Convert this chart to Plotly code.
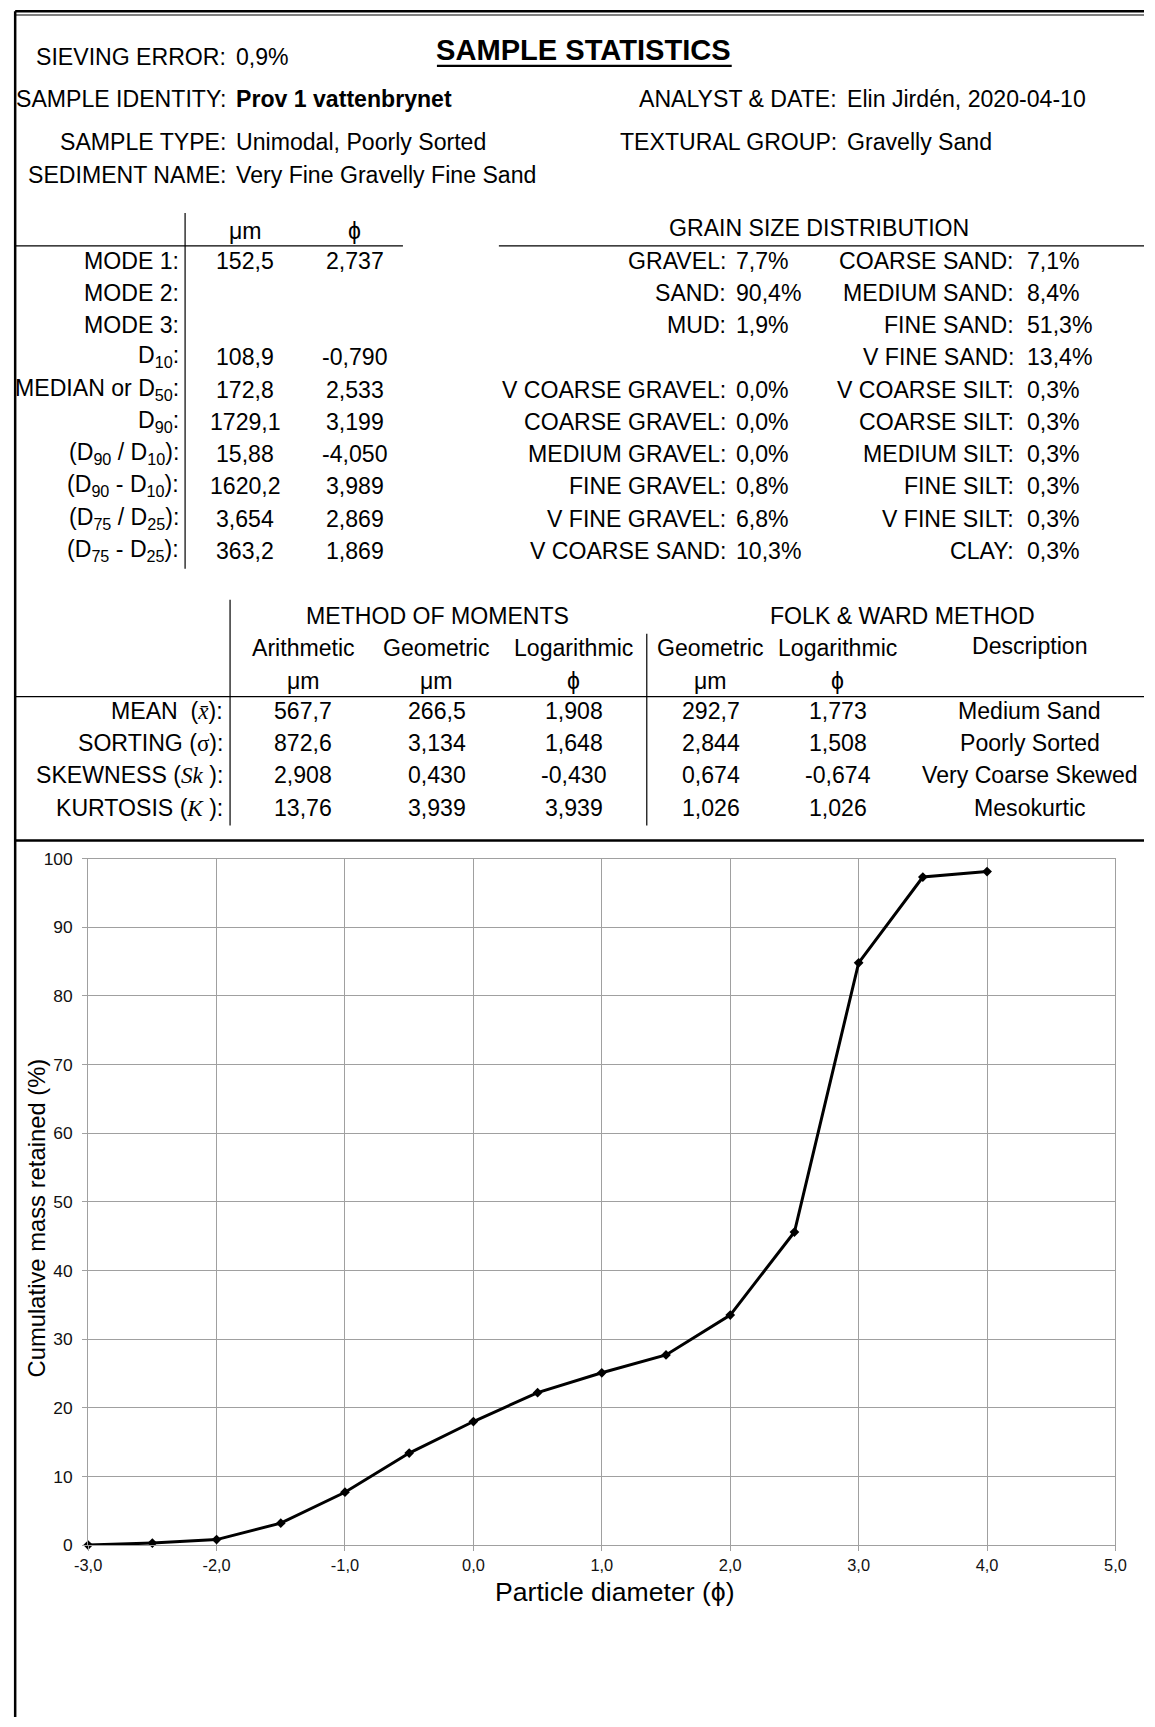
import plotly.graph_objects as go

W, H = 1155, 1727
FONT = "Liberation Sans, Arial, sans-serif"
SERIF = "Liberation Serif, Times New Roman, serif"
BODY = 23.1

# Layout positions below are given in page pixels; the page places the figure
# with an offset and a slight scale, which the helpers px/py undo.
SX, OX = 0.979, 12.8
SY, OY = 0.989, 8.0

# ---- cumulative curve ----
phi_classes = [-3.0, -2.5, -2.0, -1.5, -1.0, -0.5, 0.0, 0.5, 1.0, 1.5, 2.0, 2.5, 3.0, 3.5, 4.0]
cum_retained = [0.0, 0.3, 0.8, 3.2, 7.7, 13.4, 18.0, 22.2, 25.1, 27.7, 33.5, 45.6, 84.8, 97.3, 98.1]
x_ticks = [-3, -2, -1, 0, 1, 2, 3, 4, 5]
x_tick_text = ["-3,0", "-2,0", "-1,0", "0,0", "1,0", "2,0", "3,0", "4,0", "5,0"]
y_ticks = [0, 10, 20, 30, 40, 50, 60, 70, 80, 90, 100]

# ---- header info ----
header_left_labels = ["SIEVING ERROR:", "SAMPLE IDENTITY:", "SAMPLE TYPE:", "SEDIMENT NAME:"]
header_left_values = ["0,9%", "<b>Prov 1 vattenbrynet</b>", "Unimodal, Poorly Sorted",
                      "Very Fine Gravelly Fine Sand"]
header_right_labels = ["ANALYST & DATE:", "TEXTURAL GROUP:"]
header_right_values = ["Elin Jirdén, 2020-04-10", "Gravelly Sand"]

# ---- size statistics ----
stat_labels = ["MODE 1:", "MODE 2:", "MODE 3:", "D<sub>10</sub>:", "MEDIAN or D<sub>50</sub>:",
               "D<sub>90</sub>:", "(D<sub>90</sub> / D<sub>10</sub>):", "(D<sub>90</sub> - D<sub>10</sub>):",
               "(D<sub>75</sub> / D<sub>25</sub>):", "(D<sub>75</sub> - D<sub>25</sub>):"]
stat_um = ["152,5", "", "", "108,9", "172,8", "1729,1", "15,88", "1620,2", "3,654", "363,2"]
stat_phi = ["2,737", "", "", "-0,790", "2,533", "3,199", "-4,050", "3,989", "2,869", "1,869"]

# ---- grain size distribution ----
gsd_left_labels = ["GRAVEL:", "SAND:", "MUD:", "", "V COARSE GRAVEL:", "COARSE GRAVEL:",
                   "MEDIUM GRAVEL:", "FINE GRAVEL:", "V FINE GRAVEL:", "V COARSE SAND:"]
gsd_left_values = ["7,7%", "90,4%", "1,9%", "", "0,0%", "0,0%", "0,0%", "0,8%", "6,8%", "10,3%"]
gsd_right_labels = ["COARSE SAND:", "MEDIUM SAND:", "FINE SAND:", "V FINE SAND:", "V COARSE SILT:",
                    "COARSE SILT:", "MEDIUM SILT:", "FINE SILT:", "V FINE SILT:", "CLAY:"]
gsd_right_values = ["7,1%", "8,4%", "51,3%", "13,4%", "0,3%", "0,3%", "0,3%", "0,3%", "0,3%", "0,3%"]

# ---- moments / Folk & Ward ----
mom_labels = [
    'MEAN  (<span style="font-family:%s;font-style:italic">x̄</span>):' % SERIF,
    'SORTING (<span style="font-family:%s">σ</span>):' % SERIF,
    'SKEWNESS (<span style="font-family:%s;font-style:italic">Sk</span> ):' % SERIF,
    'KURTOSIS (<span style="font-family:%s;font-style:italic">K</span> ):' % SERIF,
]
mom_headers = ["Arithmetic", "Geometric", "Logarithmic", "Geometric", "Logarithmic", "Description"]
mom_units = ["μm", "μm", "ϕ", "μm", "ϕ", ""]
mom_arith = ["567,7", "872,6", "2,908", "13,76"]
mom_geom = ["266,5", "3,134", "0,430", "3,939"]
mom_log = ["1,908", "1,648", "-0,430", "3,939"]
fw_geom = ["292,7", "2,844", "0,674", "1,026"]
fw_log = ["1,773", "1,508", "-0,674", "1,026"]
fw_desc = ["Medium Sand", "Poorly Sorted", "Very Coarse Skewed", "Mesokurtic"]


def px(x):
    fx = max((x - OX) / SX, 1.2)
    return min(fx, W) / W


def py(y):
    fy = max((y - OY) / SY, 1.2)
    return 1 - min(fy, H) / H


annotations = []
shapes = []


def text(x, y, s, anchor="left", size=BODY, angle=0):
    annotations.append(dict(
        x=px(x), y=py(y), xref="paper", yref="paper", text=s, showarrow=False,
        xanchor=anchor, yanchor="middle", textangle=angle,
        font=dict(family=FONT, size=size, color="black"),
    ))


def line(x0, y0, x1, y1, width=1.2, color="black"):
    shapes.append(dict(type="line", xref="paper", yref="paper",
                       x0=px(x0), y0=py(y0), x1=px(x1), y1=py(y1),
                       line=dict(color=color, width=width)))


RIGHT = 1170
BOTTOM = 1740

# frame
line(0, 0, RIGHT, 0, width=2.5)
line(0, 13, RIGHT, 13, width=1.2)
line(0, 0, 0, BOTTOM, width=2.5)

# title
text(583, 48, "<b>SAMPLE STATISTICS</b>", anchor="center", size=29.1)
line(436, 64, 731, 64, width=2.2)

# header block
head_rows = [55, 97, 140, 173]
for lab, val, y in zip(header_left_labels, header_left_values, head_rows):
    text(227, y, lab, anchor="right")
    text(233, y, val, anchor="left")
for lab, val, y in zip(header_right_labels, header_right_values, head_rows[1:3]):
    text(838, y, lab, anchor="right")
    text(844, y, val, anchor="left")

# statistics table
row_y = [259, 291, 323, 355, 388, 420, 452, 484, 517, 549]
text(244, 229, "μm", anchor="center")
text(354, 229, "ϕ", anchor="center")
line(0, 244, 402, 244)
line(184, 211, 184, 567)
for lab, um, ph, y in zip(stat_labels, stat_um, stat_phi, row_y):
    text(180, y, lab, anchor="right")
    if um:
        text(244, y, um, anchor="center")
    if ph:
        text(354, y, ph, anchor="center")

# grain size distribution
text(818, 226, "GRAIN SIZE DISTRIBUTION", anchor="center")
line(498, 244, RIGHT, 244)
for lab, val, y in zip(gsd_left_labels, gsd_left_values, row_y):
    if lab:
        text(727, y, lab, anchor="right")
        text(733, y, val, anchor="left")
for lab, val, y in zip(gsd_right_labels, gsd_right_values, row_y):
    text(1015, y, lab, anchor="right")
    text(1024, y, val, anchor="left")

# moments table
col_x = [302, 436, 573, 710, 837, 1029]
text(437, 614, "METHOD OF MOMENTS", anchor="center")
text(902, 614, "FOLK & WARD METHOD", anchor="center")
for cx, hd in zip(col_x, mom_headers):
    text(cx, 644 if hd == "Description" else 646, hd, anchor="center")
for cx, un in zip(col_x, mom_units):
    if un:
        text(cx, 679, un, anchor="center")
line(229, 598, 229, 824)
line(646, 632, 646, 824)
line(0, 695, RIGHT, 695)
line(0, 839, RIGHT, 839, width=2.5)
mom_rows = [709, 741, 773, 806]
for i, y in enumerate(mom_rows):
    text(224, y, mom_labels[i], anchor="right")
    for cx, col in zip(col_x, [mom_arith, mom_geom, mom_log, fw_geom, fw_log, fw_desc]):
        text(cx, y, col[i], anchor="center")

# axis titles
text(614, 1591, "Particle diameter (ϕ)", anchor="center", size=26.6)
text(35, 1217, "Cumulative mass retained (%)", anchor="center", size=23.8, angle=-90)

fig = go.Figure()
fig.add_trace(go.Scatter(
    x=phi_classes, y=cum_retained, mode="lines+markers",
    line=dict(color="black", width=3),
    marker=dict(symbol="diamond", size=7.5, color="black"),
    cliponaxis=False, showlegend=False,
))

GRID = "#a0a0a0"
fig.update_layout(
    width=W, height=H,
    margin=dict(l=0, r=0, t=0, b=0),
    paper_bgcolor="white", plot_bgcolor="white",
    annotations=annotations, shapes=shapes,
    xaxis=dict(domain=[px(87), px(1115)], range=[-3, 5], tickvals=x_ticks, ticktext=x_tick_text,
               showgrid=True, gridcolor=GRID, gridwidth=1, zeroline=False,
               showline=True, linecolor=GRID, linewidth=1, mirror=True,
               ticks="outside", ticklen=5, tickcolor=GRID,
               tickfont=dict(family=FONT, size=16.4, color="#111")),
    yaxis=dict(domain=[py(1544), py(857)], range=[0, 100], tickvals=y_ticks,
               showgrid=True, gridcolor=GRID, gridwidth=1, zeroline=False,
               showline=True, linecolor=GRID, linewidth=1, mirror=True,
               ticks="outside", ticklen=5, tickcolor=GRID, ticklabelstandoff=6,
               tickfont=dict(family=FONT, size=17.4, color="#111")),
)

fig.write_html("out.html")
